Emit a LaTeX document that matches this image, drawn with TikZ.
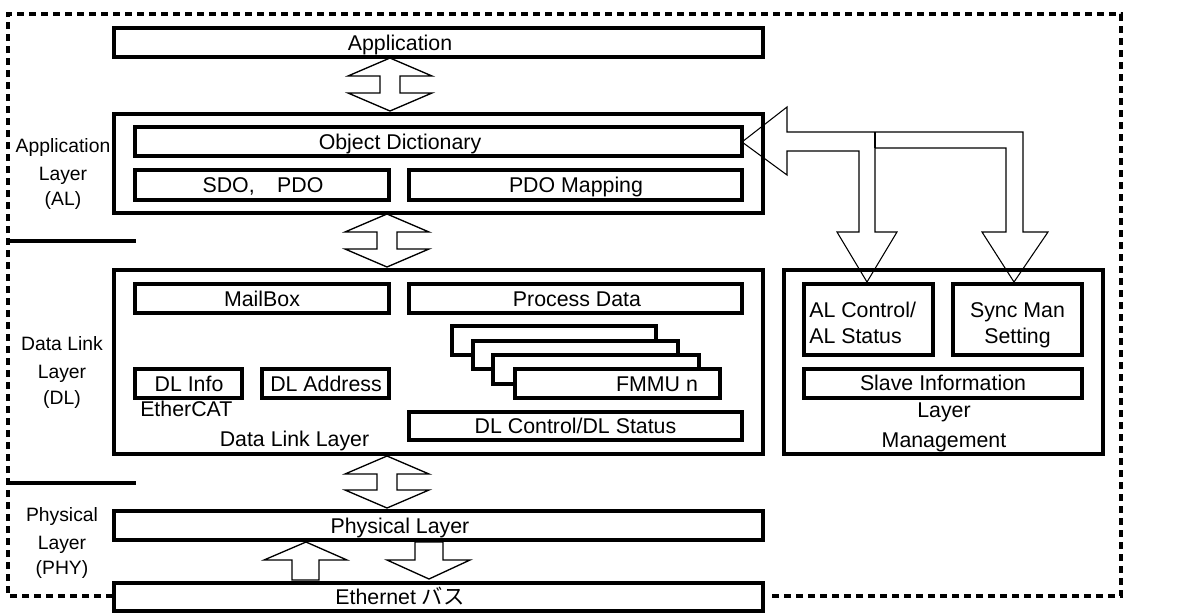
\documentclass[tikz,border=0pt]{standalone}
\usepackage{fontspec}
\setmainfont{Liberation Sans}
\newfontfamily\jpfont{Noto Sans CJK JP}
\newcommand\mkbox[5]{\node[box,minimum width={(#4-#2)*0.75pt},minimum height={(#5-#3)*0.75pt}] (#1) at (#2,#3) {};}
\newcommand\dblarrow[3]{\draw[blk] (#1,#2) -- (#1+42,#2+18) -- (#1+10,#2+18) -- (#1+10,#3-18) -- (#1+42,#3-18) -- (#1,#3) -- (#1-42,#3-18) -- (#1-10,#3-18) -- (#1-10,#2+18) -- (#1-42,#2+18) -- cycle;}
\begin{document}
\begin{tikzpicture}[x=0.75pt,y=-0.75pt,
  box/.style={draw,line width=2.3pt,fill=white,inner sep=0pt,outer sep=0pt,anchor=north west},
  lbl/.style={inner sep=0pt,anchor=base,font=\fontsize{16}{20}\selectfont},
  side/.style={inner sep=0pt,anchor=base,font=\fontsize{14.5}{20}\selectfont},
  blk/.style={draw,line width=1pt,line join=miter},
  thin/.style={draw,line width=0.8pt,line join=miter},
  frame/.style={line width=2.4pt,dash pattern=on 5.5pt off 3.5pt},
  sepline/.style={line width=2.3pt}]
\useasboundingbox (0,0) rectangle (1197,612);
% outer dashed frame
\coordinate (f1) at (8,596);
\coordinate (f2) at (8,14);
\coordinate (f3) at (1121,14);
\coordinate (f4) at (1121,596);
\coordinate (f5) at (113,596);
\coordinate (f6) at (771,596);
\draw[frame] (f5) -- (f1) -- (f2) -- (f3) -- (f4) -- (f6);
% separators
\coordinate (s1a) at (8,241); \coordinate (s1b) at (136,241);
\coordinate (s2a) at (8,483); \coordinate (s2b) at (136,483);
\draw[sepline] (s1a) -- (s1b);
\draw[sepline] (s2a) -- (s2b);
% big boxes
\mkbox{app}{114}{28}{763}{57}
\mkbox{al}{114}{114}{763}{213}
\mkbox{od}{135}{127}{742}{156}
\mkbox{sdo}{135}{170}{389}{200}
\mkbox{pdom}{409}{170}{742}{200}
\mkbox{dl}{114}{270}{763}{454}
\mkbox{mail}{135}{284}{389}{313}
\mkbox{pd}{409}{284}{742}{313}
\mkbox{fm1}{452}{326}{656}{355}
\mkbox{fm2}{473}{341}{678}{369}
\mkbox{fm3}{493}{355}{699}{384}
\mkbox{fm4}{515}{369}{720}{398}
\mkbox{dlinfo}{135}{369}{242}{398}
\mkbox{dladdr}{262}{369}{389}{398}
\mkbox{dlctl}{409}{412}{742}{440}
\mkbox{phy}{114}{511}{763}{540}
\mkbox{eth}{114}{583}{763}{611}
% block arrows
\dblarrow{390}{58}{111}
\dblarrow{387}{214}{267}
\dblarrow{387}{456}{508}
\draw[blk] (306,542) -- (347,560) -- (319,560) -- (319,580) -- (292,580) -- (292,560) -- (264,560) -- cycle;
\draw[blk] (415,542) -- (415,560) -- (387,560) -- (429,579) -- (470,560) -- (443,560) -- (443,542) -- cycle;
% management
\mkbox{mgmt}{784}{270}{1103}{454}
\mkbox{alctl}{804}{284}{933}{355}
\mkbox{sync}{953}{284}{1082}{355}
\mkbox{slave}{804}{369}{1082}{398}
% big branching arrow
\draw[thin] (742,142) -- (787,107) -- (787,132) -- (1023,132) -- (1023,232) -- (1048,232) -- (1014,282) -- (982,232) -- (1006,232) -- (1006,148) -- (875,148) -- (875,232) -- (897,232) -- (867,282) -- (837,232) -- (859,232) -- (859,151) -- (787,151) -- (787,175) -- cycle;
\draw[thin] (875,132) -- (875,148);
% texts
\node[lbl] (tapp) at (400,50) {Application};
\node[lbl] (tod) at (400,149) {Object Dictionary};
\node[lbl] (tsdo) at (263,192.5) {SDO,\hspace{1.05em}PDO};
\node[lbl] (tpdom) at (576,192.5) {PDO Mapping};
\node[lbl] (tmail) at (262,306) {MailBox};
\node[lbl] (tpd) at (577,306) {Process Data};
\node[lbl] (tfm) at (657,391) {FMMU n};
\node[lbl] (tinfo) at (189,391) {DL Info};
\node[lbl] (taddr) at (326,391) {DL Address};
\node[lbl,anchor=base west] (tec) at (140,416.5) {EtherCAT};
\node[lbl] (tdll) at (294.5,446.5) {Data Link Layer};
\node[lbl] (tctl) at (575.5,433.5) {DL Control/DL Status};
\node[lbl] (tphy) at (400,533) {Physical Layer};
\node[lbl] (teth) at (400,604.5) {Ethernet {\jpfont バス}};
\node[lbl,anchor=base west] (talc1) at (809,317.5) {AL Control/};
\node[lbl,anchor=base west] (talc2) at (809,343.5) {AL Status};
\node[lbl] (tsy1) at (1017.5,317.5) {Sync Man};
\node[lbl] (tsy2) at (1017.5,343.5) {Setting};
\node[lbl] (tsl) at (943,390.5) {Slave Information};
\node[lbl] (tlm1) at (944,417.5) {Layer};
\node[lbl] (tlm2) at (944,447) {Management};
% side labels
\node[side] (sa1) at (63,152) {Application};
\node[side] (sa2) at (63,180) {Layer};
\node[side] (sa3) at (63,205) {(AL)};
\node[side] (sd1) at (62,350) {Data Link};
\node[side] (sd2) at (62,378) {Layer};
\node[side] (sd3) at (62,404) {(DL)};
\node[side] (sp1) at (62,521) {Physical};
\node[side] (sp2) at (62,549) {Layer};
\node[side] (sp3) at (62,574) {(PHY)};
\end{tikzpicture}
\end{document}
